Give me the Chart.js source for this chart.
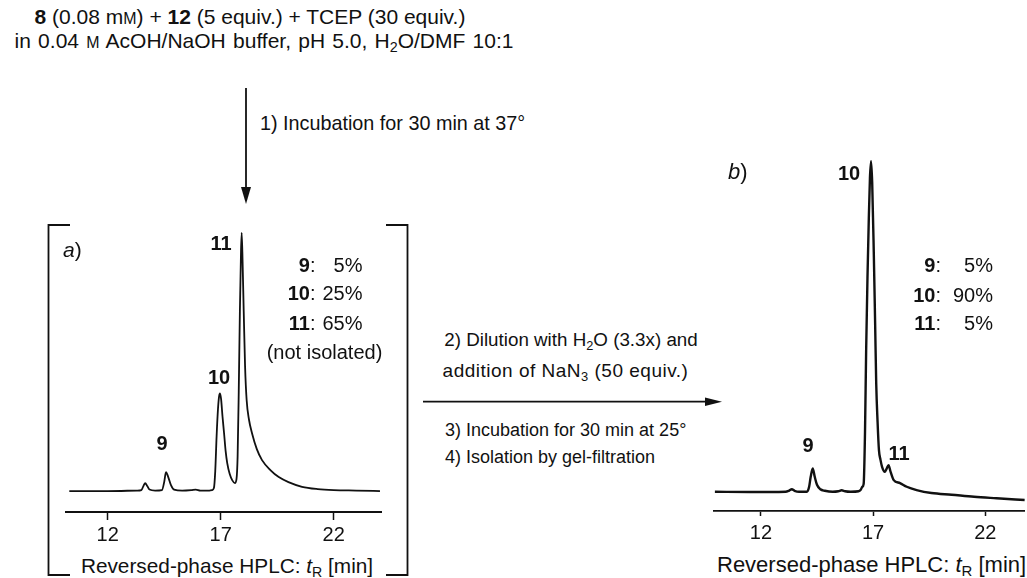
<!DOCTYPE html>
<html><head><meta charset="utf-8">
<script src="https://cdn.jsdelivr.net/npm/chart.js@4.4.1/dist/chart.umd.min.js"></script>
<style>
body{margin:0;width:1027px;height:578px;background:#fff;position:relative;overflow:hidden;font-family:'Liberation Sans',Arial,sans-serif;color:#111;font-size:20px}
.t{position:absolute;white-space:nowrap;line-height:24px}
.c{transform:translateX(-50%)}
sub{font-size:0.68em;vertical-align:-0.3em;line-height:0}
.sc{font-size:0.76em}
.row{position:absolute;white-space:nowrap;line-height:24px;font-size:20px}
.row .lab{display:inline-block;text-align:right}
.row .pct{display:inline-block;text-align:right}
.pk{font-weight:bold;font-size:20px}
canvas{position:absolute}
svg{position:absolute;left:0;top:0}
</style></head>
<body>
<svg width="1027" height="578">
  <g stroke="#111" stroke-width="1.8" fill="none">
    <polyline points="70,225 48.5,225 48.5,575 70,575"/>
    <polyline points="386,225 407.5,225 407.5,575 386,575"/>
    <line x1="246" y1="88" x2="246" y2="190"/>
    <line x1="423" y1="401.7" x2="708" y2="401.7"/>
  </g>
  <polygon points="241,187 251,187 246,204" fill="#111"/>
  <polygon points="705,397.5 705,406 722,401.7" fill="#111"/>
</svg>

<canvas id="ca" width="317" height="360" style="left:66px;top:190px;width:317px;height:360px"></canvas>
<canvas id="cb" width="313" height="420" style="left:714px;top:120px;width:313px;height:420px"></canvas>

<div class="t c" style="left:250px;top:5px;font-size:21px"><b>8</b> (0.08 m<span class="sc">M</span>) + <b>12</b> (5 equiv.) + TCEP (30 equiv.)</div>
<div class="t c" style="left:264px;top:29px;font-size:21px;word-spacing:1.4px">in 0.04 <span class="sc">M</span> AcOH/NaOH buffer, pH 5.0, H<sub>2</sub>O/DMF 10:1</div>
<div class="t" style="left:260px;top:111px;font-size:19.8px">1) Incubation for 30 min at 37°</div>

<div class="t" style="left:63px;top:238px;font-size:21px"><i>a</i>)</div>
<div class="t c pk" style="left:221px;top:231px">11</div>
<div class="t c pk" style="left:219px;top:365px">10</div>
<div class="t c pk" style="left:162px;top:431px">9</div>
<div class="row" style="left:273.5px;top:253px"><span class="lab" style="width:42px"><b>9</b>:</span><span class="pct" style="width:47px">5%</span></div>
<div class="row" style="left:273.5px;top:281px"><span class="lab" style="width:42px"><b>10</b>:</span><span class="pct" style="width:47px">25%</span></div>
<div class="row" style="left:273.5px;top:311px"><span class="lab" style="width:42px"><b>11</b>:</span><span class="pct" style="width:47px">65%</span></div>
<div class="t c" style="left:324.5px;top:340px">(not isolated)</div>
<div class="t c" style="left:227px;top:554px;font-size:20.8px">Reversed-phase HPLC: <i>t</i><sub>R</sub> [min]</div>

<div class="t c" style="left:571px;top:328px;font-size:18.8px">2) Dilution with H<sub>2</sub>O (3.3x) and</div>
<div class="t c" style="left:565.5px;top:359px;font-size:19px;letter-spacing:0.5px">addition of NaN<sub>3</sub> (50 equiv.)</div>
<div class="t" style="left:445px;top:418px;font-size:18px">3) Incubation for 30 min at 25°</div>
<div class="t" style="left:445px;top:445px;font-size:18px">4) Isolation by gel-filtration</div>

<div class="t" style="left:728px;top:160px;font-size:22px"><i>b</i>)</div>
<div class="t c pk" style="left:849px;top:161px">10</div>
<div class="t c pk" style="left:808px;top:433px">9</div>
<div class="t c pk" style="left:899px;top:441px">11</div>
<div class="row" style="left:899px;top:253px"><span class="lab" style="width:42px"><b>9</b>:</span><span class="pct" style="width:52px">5%</span></div>
<div class="row" style="left:899px;top:283px"><span class="lab" style="width:42px"><b>10</b>:</span><span class="pct" style="width:52px">90%</span></div>
<div class="row" style="left:899px;top:311px"><span class="lab" style="width:42px"><b>11</b>:</span><span class="pct" style="width:52px">5%</span></div>
<div class="t" style="left:717px;top:553px;font-size:22px">Reversed-phase HPLC: <i>t</i><sub>R</sub> [min]</div>

<script>
// Retention-time tick labels (min)
const tickValues = [12, 17, 22];

// Chromatogram a) : retention time (min) and detector signal (arb. units above baseline)
const timeA = [10.3, 12.0, 13.3, 13.49, 13.58, 13.66, 13.75, 13.85, 14.1, 14.4, 14.5, 14.58, 14.68, 14.8, 14.94, 15.3, 15.7, 15.9, 16.1, 16.5, 16.62, 16.7, 16.76, 16.82, 16.88, 16.93, 16.97, 17.02, 17.08, 17.15, 17.22, 17.29, 17.4, 17.51, 17.63, 17.7, 17.75, 17.8, 17.85, 17.9, 17.93, 17.97, 18.02, 18.08, 18.15, 18.25, 18.39, 18.6, 18.83, 19.2, 19.57, 20.0, 20.6, 21.3, 22.0, 23.0, 24.05];
const signalA = [0, 0, 0.5, 1, 5, 8, 5, 1.5, 0.5, 1, 9, 19, 14, 6, 1.5, 0.5, 1, 1.5, 0.5, 0.5, 1, 3, 20, 55, 82, 95, 98, 92, 75, 58, 40, 28, 17, 11, 8, 12, 35, 100, 180, 240, 259, 230, 180, 125, 91, 72, 57.7, 42, 31, 21, 14, 9, 4.3, 2, 1, 0.5, 0];

// Chromatogram b)
const timeB = [9.95, 11.5, 13.1, 13.25, 13.38, 13.5, 13.7, 14.05, 14.15, 14.22, 14.31, 14.4, 14.5, 14.65, 14.85, 15.2, 15.45, 15.6, 15.75, 16.0, 16.35, 16.45, 16.52, 16.58, 16.64, 16.69, 16.75, 16.81, 16.86, 16.91, 16.96, 17.03, 17.09, 17.14, 17.2, 17.26, 17.33, 17.4, 17.52, 17.6, 17.69, 17.78, 17.92, 18.2, 18.5, 18.94, 19.6, 20.5, 21.5, 22.5, 23.76];
const signalB = [0, -0.3, 0, 1, 2.5, 1, 0, 0, 5, 15, 23.4, 15, 7, 2.5, 1, 0, 0.5, 1.5, 0.5, 0, 0.5, 2, 5, 8, 60, 141, 215, 275, 315, 331.7, 310, 241, 170, 108, 70, 42, 32, 25, 20, 23, 26.7, 20, 11.7, 8.7, 5, 1.7, -1.3, -3, -5, -6.5, -8.3];

function makeChart(id, times, signals, xmin, xmax, ymin, axisX, axisY, lineW, axisW, tickLen, tickPad) {
  const pts = times.map((t, i) => ({x: t, y: signals[i]}));
  const ch = new Chart(document.getElementById(id), {
    type: 'line',
    data: {datasets: [{data: pts, borderColor: '#111', borderWidth: lineW, pointRadius: 0, fill: false, cubicInterpolationMode: 'monotone'}]},
    options: {
      responsive: false, animation: false, maintainAspectRatio: false,
      plugins: {legend: {display: false}, tooltip: {enabled: false}},
      layout: {padding: 0},
      scales: {
        x: {
          type: 'linear', min: xmin, max: xmax,
          grid: {display: true, drawOnChartArea: false, drawTicks: true, tickLength: tickLen, tickWidth: 1.5, tickColor: '#111'},
          border: {display: true, color: '#111', width: axisW},
          afterBuildTicks: s => { s.ticks = tickValues.map(v => ({value: v})); },
          ticks: {color: '#111', font: {family: 'Liberation Sans', size: 20}, padding: tickPad, maxRotation: 0, autoSkip: false}
        },
        y: {display: false, min: ymin, max: ymin + 300}
      }
    }
  });
  // one data unit = one pixel; place the axis line where the figure has it
  const a = ch.chartArea;
  ch.options.scales.y.max = ymin + (a.bottom - a.top);
  ch.update();
  ch.canvas.style.top = (axisY - ch.chartArea.bottom) + 'px';
  ch.canvas.style.left = (axisX - ch.chartArea.left) + 'px';
  return ch;
}
makeChart('ca', timeA, signalA, 10.15, 24.1, -21, 66, 512, 1.8, 2, 8, 3);
makeChart('cb', timeB, signalB, 9.92, 23.76, -19.3, 714, 511, 2.4, 1.8, 5, 5);
</script>
</body></html>
